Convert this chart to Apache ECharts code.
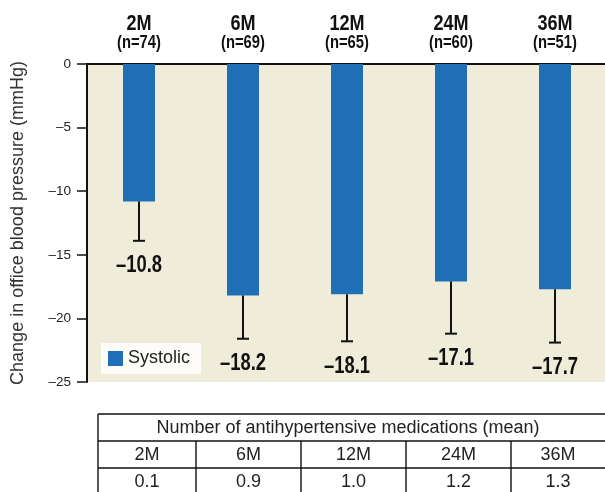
<!DOCTYPE html>
<html>
<head>
<meta charset="utf-8">
<script src="https://cdn.jsdelivr.net/npm/echarts@6/dist/echarts.min.js"></script>
<style>
html,body{margin:0;padding:0;background:#fff;}
#c{width:605px;height:492px;}
</style>
</head>
<body>
<div id="c"></div>
<script>
var categories = ['2M', '6M', '12M', '24M', '36M'];
var sampleSizes = [74, 69, 65, 60, 51];
var systolic = [-10.8, -18.2, -18.1, -17.1, -17.7];
var errorLow = [-13.9, -21.6, -21.8, -21.2, -21.9];
var medications = [0.1, 0.9, 1.0, 1.2, 1.3];
var tableTitle = 'Number of antihypertensive medications (mean)';

var SANS = '"Liberation Sans", Arial, sans-serif';
function dash(v){ return v === 0 ? '0' : '\u2013' + Math.abs(v); }

var chart = echarts.init(document.getElementById('c'));

// table graphics
var colEdges = [98, 196, 301, 406, 511, 605];
var rowEdges = [414, 441, 468, 495];
var g = [];
var LW = 1.4;
for (var r = 0; r < rowEdges.length; r++) {
  g.push({type:'line', shape:{x1:colEdges[0], y1:rowEdges[r], x2:620, y2:rowEdges[r]}, style:{stroke:'#111', lineWidth:LW}});
}
g.push({type:'line', shape:{x1:colEdges[0], y1:rowEdges[0], x2:colEdges[0], y2:rowEdges[3]}, style:{stroke:'#111', lineWidth:LW}});
for (var c = 1; c < colEdges.length - 1; c++) {
  g.push({type:'line', shape:{x1:colEdges[c], y1:rowEdges[1], x2:colEdges[c], y2:rowEdges[3]}, style:{stroke:'#111', lineWidth:LW}});
}
g.push({type:'text', style:{text:tableTitle, x:348, y:(rowEdges[0]+rowEdges[1])/2 + 1, align:'center', verticalAlign:'middle', font:'18px ' + SANS, fill:'#222'}});
for (var i = 0; i < categories.length; i++) {
  var cx = (colEdges[i] + colEdges[i+1]) / 2;
  g.push({type:'text', style:{text:categories[i], x:cx, y:(rowEdges[1]+rowEdges[2])/2 + 1, align:'center', verticalAlign:'middle', font:'18px ' + SANS, fill:'#222'}});
  g.push({type:'text', style:{text:medications[i].toFixed(1), x:cx, y:(rowEdges[2]+rowEdges[3])/2 + 1, align:'center', verticalAlign:'middle', font:'18px ' + SANS, fill:'#222'}});
}

var errData = categories.map(function(c, i){ return [i, systolic[i], errorLow[i]]; });
var topData = categories.map(function(c, i){ return [i, 0]; });

chart.setOption({
  animation: false,
  grid: {left: 87, top: 64, width: 520, height: 318, show: true, backgroundColor: '#F0ECDA', borderWidth: 0, outerBoundsMode: 'none', containLabel: false},
  legend: {
    data: ['Systolic'], left: 101, top: 343,
    backgroundColor: '#FDFCF8', padding: [6.5, 11, 6.5, 7],
    itemWidth: 15, itemHeight: 15, icon: 'rect', itemGap: 8,
    textStyle: {fontSize: 18, color: '#222', fontFamily: SANS}
  },
  xAxis: {
    type: 'category', position: 'top', data: categories,
    axisLine: {show: true, lineStyle: {color: '#111', width: 2}},
    axisTick: {show: false},
    axisLabel: {show: false}
  },
  yAxis: {
    type: 'value', min: -25, max: 0, interval: 5,
    name: 'Change in office blood pressure (mmHg)',
    nameLocation: 'middle', nameGap: 60,
    nameTextStyle: {fontSize: 18, color: '#333', fontFamily: SANS},
    axisLine: {show: true, lineStyle: {color: '#111', width: 2}},
    axisTick: {show: true, length: 10, lineStyle: {color: '#111', width: 1.5}},
    axisLabel: {margin: 16, fontSize: 13.5, color: '#222', fontFamily: SANS, formatter: function(v){ return dash(v); }},
    splitLine: {show: false}
  },
  series: [
    {
      name: 'Systolic', type: 'bar', data: systolic, barWidth: 32,
      itemStyle: {color: '#1F6FB7'}
    },
    {
      name: 'err', type: 'custom', data: errData, z: 5,
      renderItem: function(params, api){
        var top = api.coord([api.value(0), api.value(1)]);
        var bot = api.coord([api.value(0), api.value(2)]);
        var x = Math.round(top[0]);
        return {type: 'group', children: [
          {type: 'line', shape: {x1: x, y1: top[1], x2: x, y2: bot[1]}, style: {stroke: '#111', lineWidth: 2}},
          {type: 'line', shape: {x1: x - 6, y1: bot[1], x2: x + 6, y2: bot[1]}, style: {stroke: '#111', lineWidth: 2}},
          {type: 'text', x: x, y: bot[1] + 25, scaleX: 0.8,
           style: {text: '\u2013' + Math.abs(api.value(1)).toFixed(1), x: 0, y: 0, align: 'center', verticalAlign: 'middle', font: 'bold 23px ' + SANS, fill: '#111'}}
        ]};
      }
    },
    {
      name: 'top', type: 'custom', data: topData, z: 5, clip: false,
      renderItem: function(params, api){
        var idx = api.value(0);
        var p = api.coord([idx, 0]);
        return {type: 'group', children: [
          {type: 'text', x: p[0], y: p[1] - 40, scaleX: 0.82,
           style: {text: categories[idx], x: 0, y: 0, align: 'center', verticalAlign: 'middle', font: 'bold 22px ' + SANS, fill: '#111'}},
          {type: 'text', x: p[0], y: p[1] - 21, scaleX: 0.82,
           style: {text: '(n=' + sampleSizes[idx] + ')', x: 0, y: 0, align: 'center', verticalAlign: 'middle', font: 'bold 18px ' + SANS, fill: '#111'}}
        ]};
      }
    }
  ],
  graphic: g
});
</script>
</body>
</html>
